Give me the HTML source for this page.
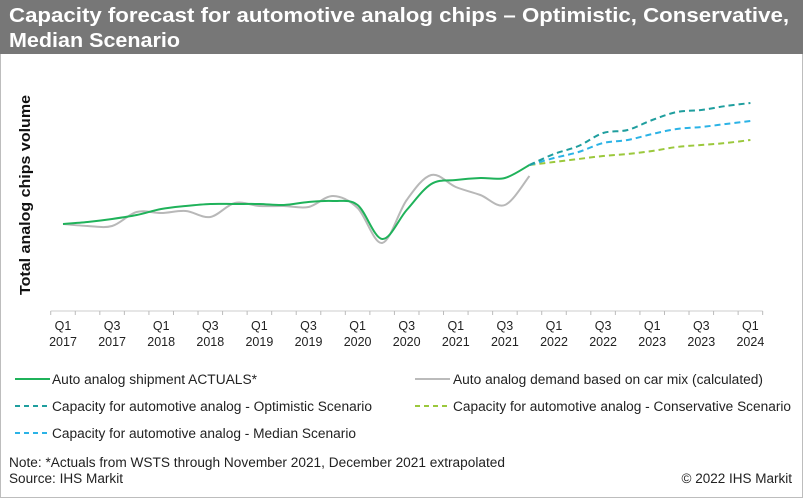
<!DOCTYPE html>
<html><head><meta charset="utf-8"><style>
body{margin:0;background:#fff;}
svg{display:block;font-family:"Liberation Sans",Arial,sans-serif;}
</style></head><body>
<svg id="chart" width="803" height="498" viewBox="0 0 803 498" xmlns="http://www.w3.org/2000/svg">
<rect x="0.5" y="0.5" width="802" height="497" fill="#fff" stroke="#bdbdbd"/>
<rect x="0" y="0" width="803" height="54" fill="#777"/>
<text x="9" y="22" font-size="20.5" font-weight="bold" fill="#fff" textLength="780" lengthAdjust="spacingAndGlyphs">Capacity forecast for automotive analog chips – Optimistic, Conservative,</text>
<text x="9" y="47" font-size="20.5" font-weight="bold" fill="#fff" textLength="171" lengthAdjust="spacingAndGlyphs">Median Scenario</text>
<text transform="translate(30,195) rotate(-90)" text-anchor="middle" font-size="14.5" font-weight="bold" fill="#111" textLength="200" lengthAdjust="spacingAndGlyphs">Total analog chips volume</text>
<g id="axis"></g>
<g id="series"></g>
<g font-size="13.5" fill="#222">
 <line x1="15" y1="379" x2="50" y2="379" stroke="#1fb25a" stroke-width="2"/>
 <text x="52" y="384" textLength="205" lengthAdjust="spacingAndGlyphs">Auto analog shipment ACTUALS*</text>
 <line x1="415" y1="379" x2="450" y2="379" stroke="#bbb" stroke-width="2"/>
 <text x="453" y="384" textLength="310" lengthAdjust="spacingAndGlyphs">Auto analog demand based on car mix (calculated)</text>
 <line x1="15" y1="406" x2="50" y2="406" stroke="#1f9e9e" stroke-width="2" stroke-dasharray="5,4"/>
 <text x="52" y="411" textLength="320" lengthAdjust="spacingAndGlyphs">Capacity for automotive analog - Optimistic Scenario</text>
 <line x1="415" y1="406" x2="450" y2="406" stroke="#9bc83c" stroke-width="2" stroke-dasharray="5,4"/>
 <text x="453" y="411" textLength="338" lengthAdjust="spacingAndGlyphs">Capacity for automotive analog - Conservative Scenario</text>
 <line x1="15" y1="433" x2="50" y2="433" stroke="#2bb3e6" stroke-width="2" stroke-dasharray="5,4"/>
 <text x="52" y="438" textLength="304" lengthAdjust="spacingAndGlyphs">Capacity for automotive analog - Median Scenario</text>
</g>
<text x="9" y="467" font-size="13.5" fill="#222" textLength="496" lengthAdjust="spacingAndGlyphs">Note: *Actuals from WSTS through November 2021, December 2021 extrapolated</text>
<text x="9" y="483" font-size="13.5" fill="#222" textLength="114" lengthAdjust="spacingAndGlyphs">Source: IHS Markit</text>
<text x="792" y="483" font-size="13.5" fill="#222" text-anchor="end">© 2022 IHS Markit</text>
</svg>
<script>
const tickLabels = ["Q1\n2017","Q3\n2017","Q1\n2018","Q3\n2018","Q1\n2019","Q3\n2019","Q1\n2020","Q3\n2020","Q1\n2021","Q3\n2021","Q1\n2022","Q3\n2022","Q1\n2023","Q3\n2023","Q1\n2024"];
const actuals = [87,89,92,96,102,105,107,107,107,106,109,110,106,72,101,127,131,133,133,146];
const demand = [87,85,85,99,98,100,94,108,105,105,104,115,103,68,111,136,124,116,106,135];
const forecastStart = 19;
const optimistic = [146,157,165,178,181,191,199,201,205,208];
const median = [146,153,159,168,171,177,182,184,187,190];
const conservative = [146,149,152,155,157,160,164,166,168,171];

const NS = "http://www.w3.org/2000/svg";
const x0 = 63, step = 24.55, axisY = 311;
function xScale(i){ return x0 + i*step; }
function yScale(v){ return axisY - v; }
function mk(tag, attrs, parent){ const e=document.createElementNS(NS,tag); for(const k in attrs) e.setAttribute(k,attrs[k]); parent.appendChild(e); return e; }

const axis = document.getElementById('axis');
let a = mk('line',{x1:xScale(-0.5),y1:axisY,x2:xScale(28.5),y2:axisY,stroke:'#ccc','stroke-width':1},axis);


for(let i=0;i<=29;i++){
  const t = mk('line',{x1:xScale(i-0.5),y1:axisY,x2:xScale(i-0.5),y2:axisY+4,stroke:'#bbb'},axis);
  
  
}
tickLabels.forEach((lab,k)=>{
  const parts = lab.split("\n");
  const tx = mk('text',{x:xScale(k*2),y:axisY+19,'text-anchor':'middle','font-size':12.5,fill:'#222'},axis);
  
  
  const s1 = mk('tspan',{x:xScale(k*2),dy:0},tx); s1.textContent=parts[0];
  const s2 = mk('tspan',{x:xScale(k*2),dy:16},tx); s2.textContent=parts[1];
});

function smoothPath(pts){
  let d = "M"+pts[0][0]+","+pts[0][1];
  for(let i=0;i<pts.length-1;i++){
    const p0=pts[Math.max(0,i-1)],p1=pts[i],p2=pts[i+1],p3=pts[Math.min(pts.length-1,i+2)];
    const c1x=p1[0]+(p2[0]-p0[0])/6,c1y=p1[1]+(p2[1]-p0[1])/6;
    const c2x=p2[0]-(p3[0]-p1[0])/6,c2y=p2[1]-(p3[1]-p1[1])/6;
    d+=" C"+c1x+","+c1y+" "+c2x+","+c2y+" "+p2[0]+","+p2[1];
  }
  return d;
}
const series = document.getElementById('series');
function draw(vals, start, color, dash, name){
  const pts = vals.map((v,i)=>[xScale(start+i), yScale(v)]);
  const p = mk('path',{d:smoothPath(pts),fill:'none',stroke:color,'stroke-width':2},series);
  if(dash) p.setAttribute('stroke-dasharray',dash);
  
  
}
draw(demand,0,'#b8b8b8',null,'demand-line');
draw(actuals,0,'#1fb25a',null,'actuals-line');
draw(conservative,forecastStart,'#9bc83c','6,4','conservative-line');
draw(median,forecastStart,'#2bb3e6','6,4','median-line');
draw(optimistic,forecastStart,'#1f9e9e','6,4','optimistic-line');
</script>
</body></html>
